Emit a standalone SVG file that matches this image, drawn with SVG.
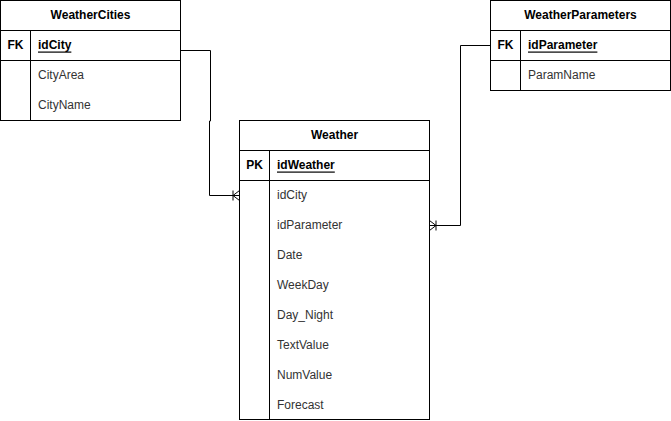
<svg xmlns="http://www.w3.org/2000/svg" width="671" height="421" viewBox="0 0 671 421">
<style>
.box{fill:#fff;stroke:#000;stroke-width:1}
.ln{stroke:#000;stroke-width:1;fill:none}
text{font-family:"Liberation Sans",Arial,sans-serif;font-size:12px;fill:#000;dominant-baseline:central}
.h{font-weight:bold;text-anchor:middle}
.k{font-weight:bold;text-anchor:middle}
.pk{font-weight:bold;text-decoration:underline}
.f{fill:#333}
</style>
<rect width="671" height="421" fill="#fff"/>
<g id="connectors">
<path class="ln" d="M180.5,50.5 H210.5 V121 H209.5 V195.5 H239.5"/>
<path class="ln" d="M233,190.5 V200.5 M233,195.5 L239.5,190.5 M233,195.5 L239.5,200.5"/>
<path class="ln" d="M490.5,45.5 H460.5 V225.5 H429.5"/>
<path class="ln" d="M436,220.5 V230.5 M436,225.5 L429.5,220.5 M436,225.5 L429.5,230.5"/>
</g>
<g id="WeatherCities">
<rect class="box" x="0.5" y="0.5" width="180" height="120"/>
<path class="ln" d="M0.5,30.5 H180.5 M0.5,60.5 H180.5 M30.5,30.5 V120.5"/>
<text class="h" x="90.5" y="14.5">WeatherCities</text>
<text class="k" x="15.5" y="44.5">FK</text>
<text class="pk" x="38" y="44.5">idCity</text>
<text class="f" x="38" y="74.5">CityArea</text>
<text class="f" x="38" y="104.5">CityName</text>
</g>
<g id="WeatherParameters">
<rect class="box" x="490.5" y="0.5" width="180" height="90"/>
<path class="ln" d="M490.5,30.5 H670.5 M490.5,60.5 H670.5 M520.5,30.5 V90.5"/>
<text class="h" x="580.5" y="14.5">WeatherParameters</text>
<text class="k" x="505.5" y="44.5">FK</text>
<text class="pk" x="528" y="44.5">idParameter</text>
<text class="f" x="528" y="74.5">ParamName</text>
</g>
<g id="Weather">
<rect class="box" x="239.5" y="120.5" width="190" height="299"/>
<path class="ln" d="M239.5,150.5 H429.5 M239.5,180.5 H429.5 M269.5,150.5 V419.5"/>
<text class="h" x="334.5" y="134.5">Weather</text>
<text class="k" x="254.5" y="164.5">PK</text>
<text class="pk" x="277" y="164.5">idWeather</text>
<text class="f" x="277" y="194.5">idCity</text>
<text class="f" x="277" y="224.5">idParameter</text>
<text class="f" x="277" y="254.5">Date</text>
<text class="f" x="277" y="284.5">WeekDay</text>
<text class="f" x="277" y="314.5">Day_Night</text>
<text class="f" x="277" y="344.5">TextValue</text>
<text class="f" x="277" y="374.5">NumValue</text>
<text class="f" x="277" y="404.5">Forecast</text>
</g>
</svg>
